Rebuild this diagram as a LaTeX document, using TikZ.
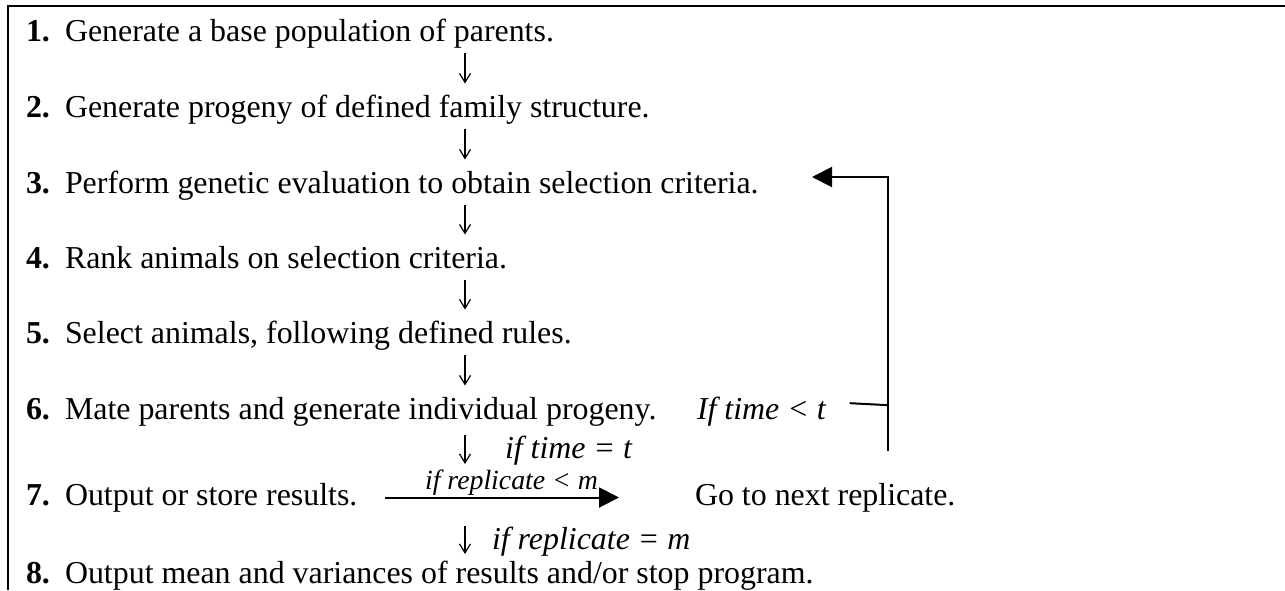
\documentclass[tikz,border=0pt]{standalone}
\usepackage{fontspec}
\setmainfont{Liberation Serif}
\usetikzlibrary{arrows.meta}

\newcommand\stepno[1]{\makebox[19.5pt][l]{\textbf{#1}}}

\begin{document}
\begin{tikzpicture}[x=0.5pt,y=-0.5pt,
  every node/.style={inner sep=0pt,outer sep=0pt},
  body/.style={font=\fontsize{15.95}{19}\selectfont},
  stepbox/.style={body,anchor=base west,text height=11pt,text depth=3.5pt},
  cond/.style={anchor=base west,font=\fontsize{15.95}{19}\selectfont\itshape},
  smallcond/.style={font=\fontsize{13.9}{17}\selectfont\itshape},
  frame/.style={line width=1.1pt},
  downarr/.style={line width=0.6pt,-{Straight Barb[length=4.5pt,width=5.5pt,line width=0.6pt]}},
  flow/.style={line width=1pt},
  flowarr/.style={flow,-{Triangle[length=10pt,width=10pt]}}
]
\useasboundingbox (0,0) rectangle (1285,590);

% open frame: top and left rules only
\draw[frame] (8,590) -- (8,6) -- (1285,6);

% the eight steps
\node[stepbox] (s1) at (26,41)  {\stepno{1.}Generate a base population of parents.};
\node[stepbox] (s2) at (26,117) {\stepno{2.}Generate progeny of defined family structure.};
\node[stepbox] (s3) at (26,193) {\stepno{3.}Perform genetic evaluation to obtain selection criteria.};
\node[stepbox] (s4) at (26,268) {\stepno{4.}Rank animals on selection criteria.};
\node[stepbox] (s5) at (26,343) {\stepno{5.}Select animals, following defined rules.};
\node[stepbox] (s6) at (26,419) {\stepno{6.}Mate parents and generate individual progeny.};
\node[stepbox] (s7) at (26,505) {\stepno{7.}Output or store results.};
\node[stepbox] (s8) at (26,583) {\stepno{8.}Output mean and variances of results and/or stop program.};

% side texts
\node[cond]    (c6) at (697,419) {If time < t};
\node[stepbox] (g7) at (695,505) {Go to next replicate.};
\node[cond]    (c67) at (505,458) {if time = t};
\node[cond]    (c78) at (492,549) {if replicate = m};

% downward flow between steps
\coordinate (ax) at (465,0);
\foreach \a/\b in {s1/s2,s2/s3,s3/s4,s4/s5,s5/s6}
  \draw[downarr] ([yshift=-2.25pt]\a.south -| ax) -- ([yshift=5.75pt]\b.north -| ax);
\draw[downarr] ([yshift=-4.5pt]s6.south -| ax) -- ([yshift=9.5pt]s7.north -| ax);
\draw[downarr] ([yshift=-7pt]s7.south -| ax) -- ([yshift=3.5pt]s8.north -| ax);

% step 7 to next replicate
\draw[flowarr] ([xshift=14pt]s7.east) -- ([xshift=-38pt]g7.west)
  node[smallcond,pos=0.54,above=0.8pt] {if replicate < m};

% loop back from step 6 to step 3
\coordinate (loopx) at (888,0);
\coordinate (looptip) at (812,177);
\draw[flow] ([xshift=12pt,yshift=4pt]c6.east) -- ([yshift=3pt]c6.east -| loopx);
\draw[flowarr] ([yshift=-20pt]c6.east -| loopx) |- (looptip);
\end{tikzpicture}
\end{document}
